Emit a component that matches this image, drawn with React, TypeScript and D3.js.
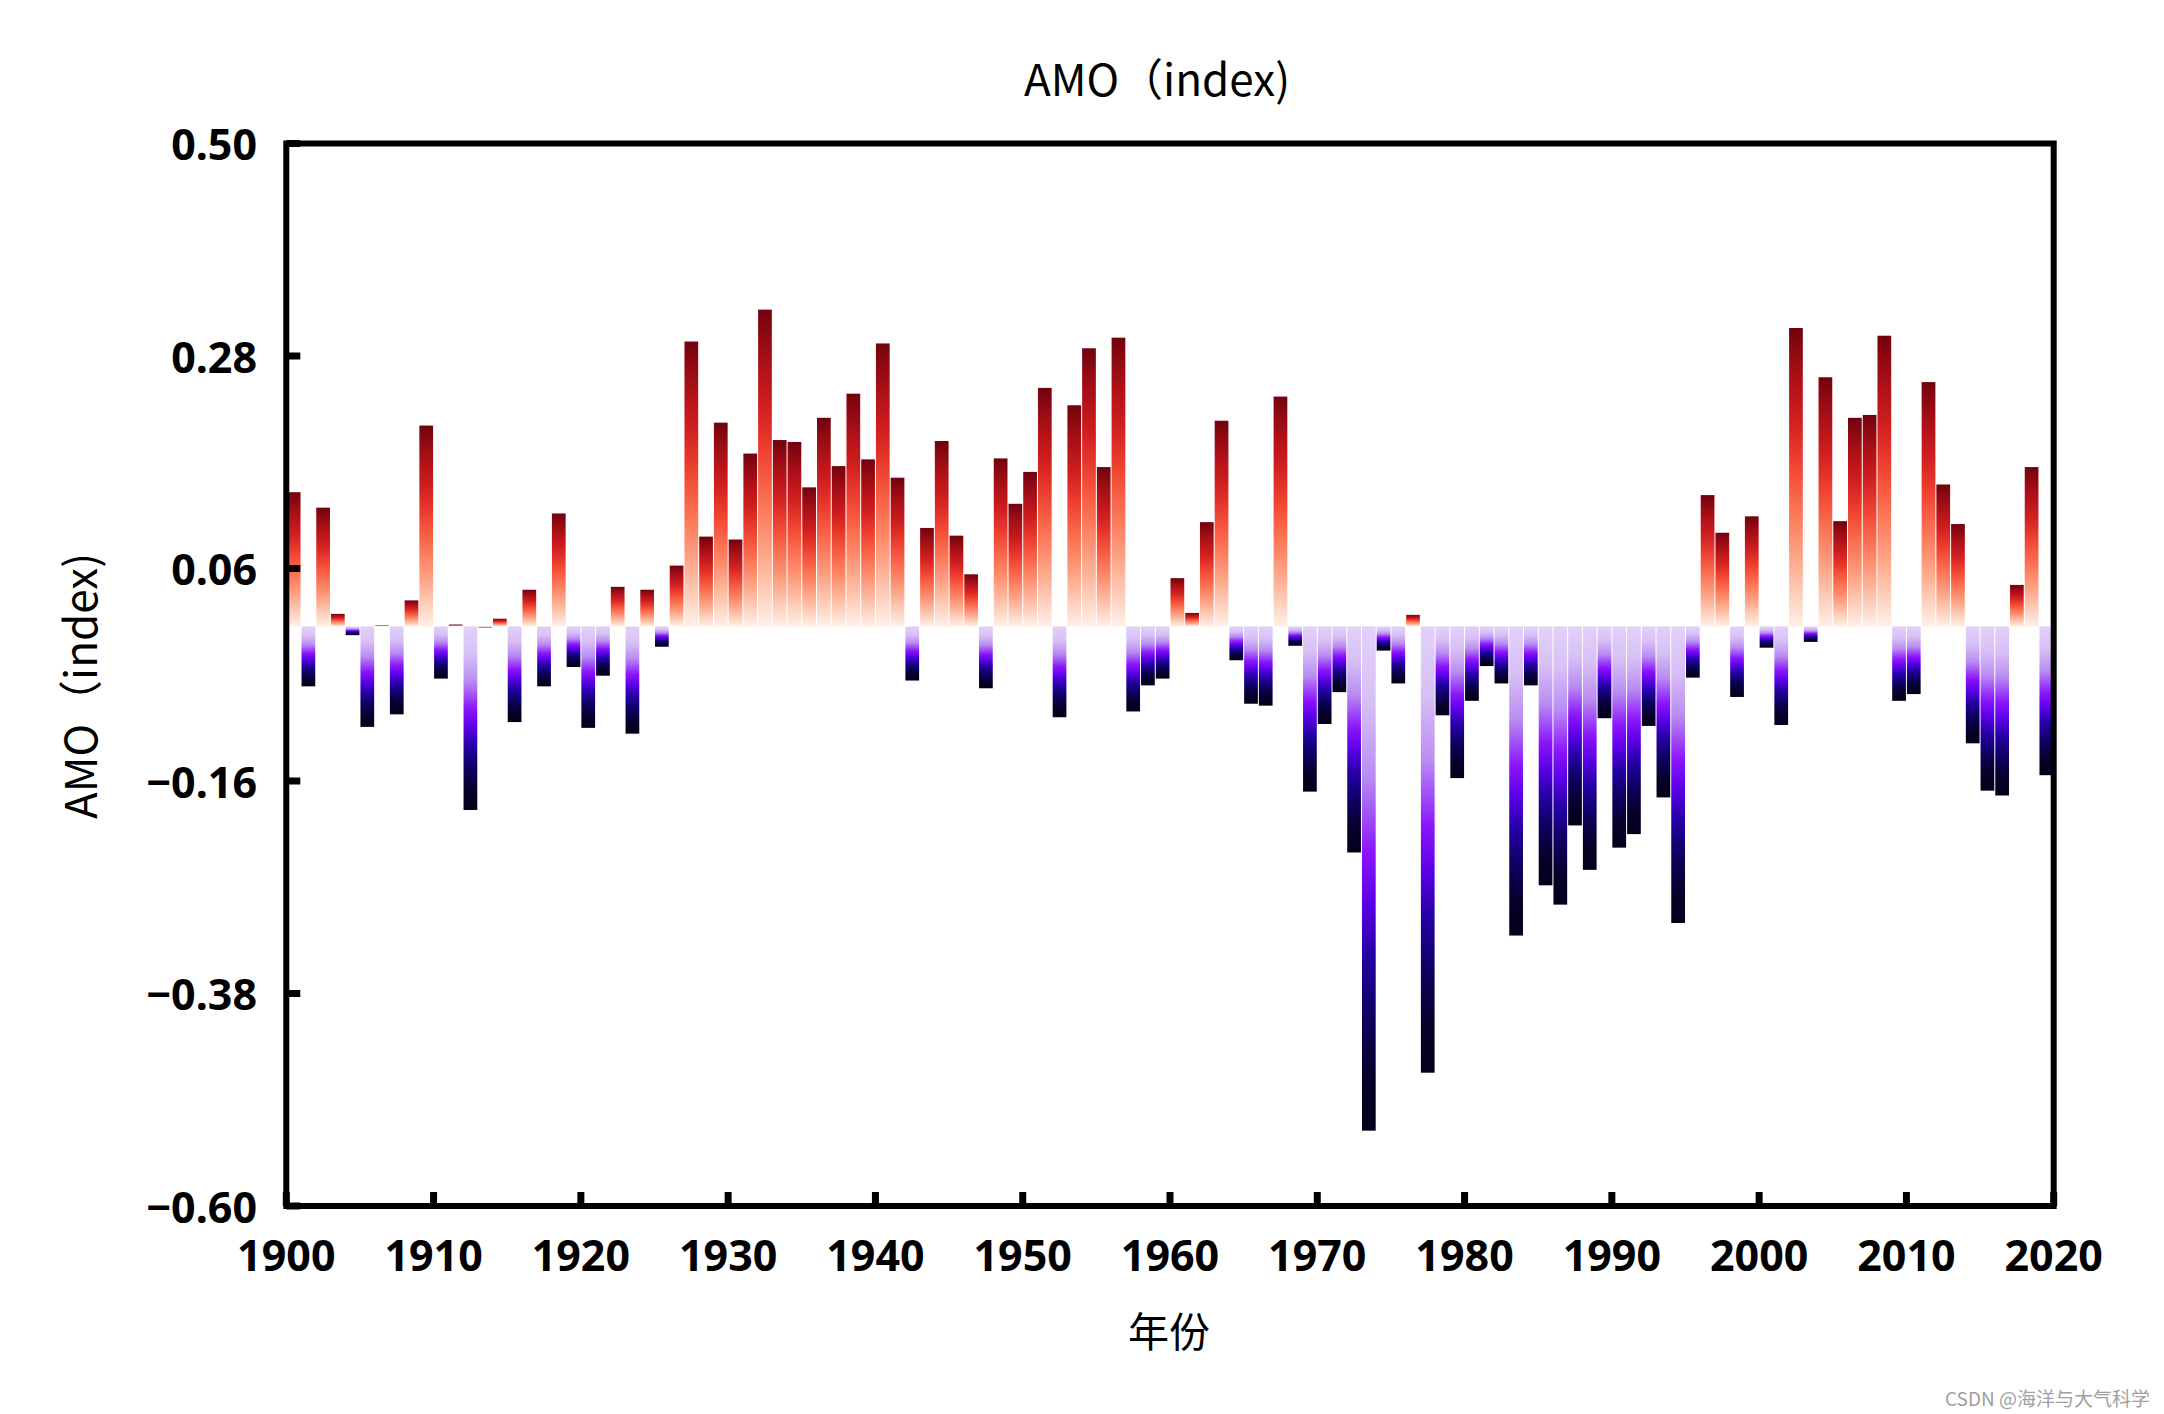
import React from "react";
import * as d3 from "d3";

const startYear = 1900;
const amoValues: number[] = [
  0.139, -0.062, 0.123, 0.013, -0.009, -0.104, 0.001, -0.091, 0.027, 0.208,
  -0.054, 0.002, -0.19, -0.001, 0.008, -0.099, 0.038, -0.062, 0.117, -0.042,
  -0.105, -0.051, 0.041, -0.111, 0.038, -0.021, 0.063, 0.295, 0.093, 0.211,
  0.09, 0.179, 0.328, 0.193, 0.191, 0.144, 0.216, 0.166, 0.241, 0.173,
  0.293, 0.154, -0.056, 0.102, 0.192, 0.094, 0.054, -0.064, 0.174, 0.127,
  0.16, 0.247, -0.094, 0.229, 0.288, 0.165, 0.299, -0.088, -0.061, -0.054,
  0.05, 0.014, 0.108, 0.213, -0.035, -0.08, -0.082, 0.238, -0.02, -0.171,
  -0.101, -0.068, -0.234, -0.522, -0.025, -0.059, 0.012, -0.462, -0.092, -0.157,
  -0.077, -0.041, -0.059, -0.32, -0.061, -0.268, -0.288, -0.206, -0.252, -0.095,
  -0.229, -0.215, -0.103, -0.177, -0.307, -0.053, 0.136, 0.097, -0.073, 0.114,
  -0.022, -0.102, 0.309, -0.016, 0.258, 0.109, 0.216, 0.219, 0.301, -0.077,
  -0.07, 0.253, 0.147, 0.106, -0.121, -0.17, -0.175, 0.043, 0.165, -0.154,
];
const yTicks = [0.5, 0.28, 0.06, -0.16, -0.38, -0.6];
const xTicks = [1900, 1910, 1920, 1930, 1940, 1950, 1960, 1970, 1980, 1990, 2000, 2010, 2020];
const titleText = "AMO（index)";
const yLabelText = "AMO（index)";
const xLabelText = "年份";
const watermark = "CSDN @海洋与大气科学";

const negStops = ["#e2d1f8", "#d8c0f6", "#b98cf2", "#8a14fb", "#5a00e6", "#2600a6", "#0c005c", "#060028", "#04001a"];
const negOffsets = [0, 0.15, 0.3, 0.45, 0.55, 0.65, 0.78, 0.9, 1];

export default function App() {
  const W = 2164, H = 1414;
  const left = 286.3, right = 2053.7, top = 143.5, bottom = 1206;
  const x = d3.scaleLinear().domain([1900, 2020]).range([left, right]);
  const y = d3.scaleLinear().domain([-0.6, 0.5]).range([bottom, top]);
  const fmt = d3.format(".2f");
  const step = x(1901) - x(1900);
  const posStops = d3.range(0, 11).map((i) => {
    const o = i / 10;
    return { o, c: d3.interpolateReds(0.03 + 0.95 * Math.pow(1 - o, 0.82)) };
  });
  const tickFont = "'Noto Sans', 'Open Sans', sans-serif";
  const cjkFont = "'Noto Sans CJK SC', 'Noto Sans', sans-serif";
  return (
    <div>
      <style>{`body{margin:0;overflow:hidden;background:#fff}`}</style>
      <svg width={W} height={H} style={{ display: "block" }}>
        <defs>
          <linearGradient id="posGrad" x1="0" y1="0" x2="0" y2="1">
            {posStops.map((s, i) => (
              <stop key={i} offset={s.o} stopColor={s.c} />
            ))}
          </linearGradient>
          <linearGradient id="negGrad" x1="0" y1="0" x2="0" y2="1">
            {negStops.map((c, i) => (
              <stop key={i} offset={negOffsets[i]} stopColor={c} />
            ))}
          </linearGradient>
        </defs>
        <rect width={W} height={H} fill="#fff" />
        {amoValues.map((v, i) => {
          const yr = startYear + i;
          const y0 = y(0);
          const yv = y(v);
          const h = Math.max(Math.abs(yv - y0), 0.8);
          return (
            <rect
              key={yr}
              x={x(yr) + 0.5}
              width={step - 1}
              y={v >= 0 ? Math.min(yv, y0 - 0.8) : y0}
              height={h}
              fill={v >= 0 ? "url(#posGrad)" : "url(#negGrad)"}
            />
          );
        })}
        <rect x={left} y={top} width={right - left} height={bottom - top} fill="none" stroke="#000" strokeWidth={6} />
        {yTicks.map((t) => (
          <g key={t}>
            <line x1={left} x2={left + 14} y1={y(t)} y2={y(t)} stroke="#000" strokeWidth={7} />
            <text
              x={257}
              y={y(t)}
              textAnchor="end"
              dominantBaseline="central"
              fontFamily={tickFont}
              fontWeight={700}
              fontSize={43}
              fill="#000"
            >
              {fmt(t)}
            </text>
          </g>
        ))}
        {xTicks.map((t) => (
          <g key={t}>
            <line x1={x(t)} x2={x(t)} y1={bottom} y2={bottom - 14} stroke="#000" strokeWidth={7} />
            <text
              x={x(t)}
              y={1254}
              textAnchor="middle"
              dominantBaseline="central"
              fontFamily={tickFont}
              fontWeight={700}
              fontSize={43}
              fill="#000"
            >
              {t}
            </text>
          </g>
        ))}
        <text x={1157} y={77} textAnchor="middle" dominantBaseline="central" fontFamily={cjkFont} fontSize={44} fill="#000">
          {titleText}
        </text>
        <text
          transform={`translate(78,686) rotate(-90)`}
          textAnchor="middle"
          dominantBaseline="central"
          fontFamily={cjkFont}
          fontSize={44}
          fill="#000"
        >
          {yLabelText}
        </text>
        <text x={1169} y={1329} textAnchor="middle" dominantBaseline="central" fontFamily={cjkFont} fontSize={41} fill="#000">
          {xLabelText}
        </text>
        <text x={2150} y={1397} textAnchor="end" dominantBaseline="central" fontFamily={cjkFont} fontSize={19} fill="#a0a0a0">
          {watermark}
        </text>
      </svg>
    </div>
  );
}
